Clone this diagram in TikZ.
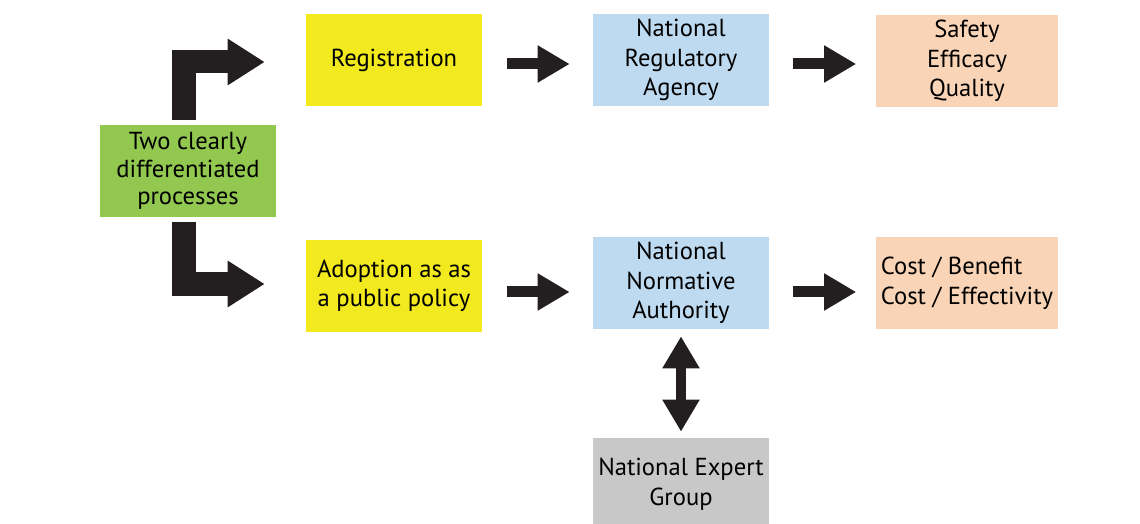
\documentclass[tikz,border=0pt]{standalone}
\usepackage{fontspec}
\setmainfont{PT Sans}
\usetikzlibrary{arrows.meta,calc}

\definecolor{boxgreen}{RGB}{146,200,80}
\definecolor{boxyellow}{RGB}{242,234,30}
\definecolor{boxblue}{RGB}{190,218,240}
\definecolor{boxpeach}{RGB}{250,212,182}
\definecolor{boxgrey}{RGB}{200,200,200}
\definecolor{arrowblack}{RGB}{35,31,32}

\tikzstyle{box}=[shape=rectangle,inner sep=0pt,minimum width=4.4cm,minimum height=2.3cm,align=center,font=\fontsize{17.5}{21}\selectfont]
\tikzstyle{flow}=[draw=arrowblack,line width=0.275cm,-{Triangle[length=0.8cm,width=0.875cm]},arrowblack]
\tikzstyle{twoway}=[draw=arrowblack,line width=0.25cm,{Triangle[length=0.8cm,width=0.875cm]}-{Triangle[length=0.8cm,width=0.875cm]},arrowblack]
\tikzstyle{split}=[draw=arrowblack,line width=0.575cm,line join=miter,-{Triangle[length=0.925cm,width=1.1cm]},arrowblack]

\begin{document}
\begin{tikzpicture}[x=0.025cm,y=-0.025cm]
\useasboundingbox (0,0) rectangle (1140,524);
% boxes
\node[box,fill=boxgreen,font=\fontsize{17.5}{19.6}\selectfont] (two) at (188,171) {Two clearly\\differentiated\\processes};
\node[box,fill=boxyellow] (reg) at (394,60) {Registration};
\node[box,fill=boxblue] (nra) at (681,60) {National\\Regulatory\\Agency};
\node[box,fill=boxpeach,minimum width=4.525cm] (safe) at (967,61) {Safety\\Efficacy\\Quality};
\node[box,fill=boxyellow] (adopt) at (394,286) {Adoption as as\\a public policy};
\node[box,fill=boxblue] (nna) at (681,283) {National\\Normative\\Authority};
\node[box,fill=boxpeach,minimum width=4.525cm,align=left] (cost) at (967,283) {Cost / Benefit\\Cost / Effectivity};
\node[box,fill=boxgrey] (expert) at (681,484) {National Expert\\Group};
% arrows
\draw[split] ($(two.north)+(-4,-5)$) |- ($(reg.west)+(-41,2)$);
\draw[split] ($(two.south)+(-4,5)$) |- ($(adopt.west)+(-41,-2)$);
\draw[flow] ($(reg.east)+(25,4)$) -- ($(nra.west)+(-23,4)$);
\draw[flow] ($(nra.east)+(24,4)$) -- ($(safe.west)+(-20,3)$);
\draw[flow] ($(adopt.east)+(25,6)$) -- ($(nna.west)+(-23,9)$);
\draw[flow] ($(nna.east)+(24,9)$) -- ($(cost.west)+(-20,9)$);
\draw[twoway] ($(nna.south)+(0,7)$) -- ($(expert.north)+(0,-6)$);
\end{tikzpicture}
\end{document}
